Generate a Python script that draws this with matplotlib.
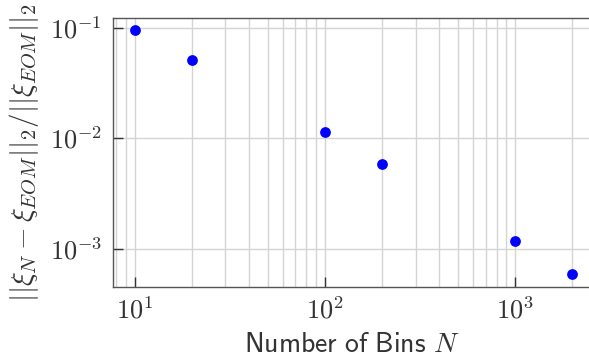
import matplotlib
matplotlib.use("Agg")
import matplotlib.pyplot as plt
from matplotlib.ticker import FuncFormatter, LogLocator, NullFormatter
import numpy as np

plt.rcParams['mathtext.fontset'] = 'cm'

bins = [10, 20, 100, 200, 1000, 2000]
rel_error = [0.0953, 0.0507, 0.0115, 0.0059, 0.00119, 0.000598]

fig = plt.figure(figsize=(5.89, 3.63), dpi=100)
ax = fig.add_axes([0.1919, 0.2102, 0.810, 0.741])

ax.scatter(bins, rel_error, s=60, color='#0000ff', zorder=3, linewidths=0)
ax.set_xscale('log')
ax.set_yscale('log')
ax.set_xlim(7.69, 2480)
ax.set_ylim(10**-3.338, 10**-0.910)

ax.xaxis.set_minor_locator(LogLocator(base=10, subs=np.arange(2, 10), numticks=20))
ax.xaxis.set_minor_formatter(NullFormatter())
ax.yaxis.set_minor_formatter(NullFormatter())
fmt = FuncFormatter(lambda v, p: r'$10^{%d}$' % round(np.log10(v)))
ax.xaxis.set_major_formatter(fmt)
ax.yaxis.set_major_formatter(fmt)

ax.grid(True, which='major', axis='both', color='#d4d4d4', linewidth=1.0, zorder=0)
ax.grid(True, which='minor', axis='x', color='#d4d4d4', linewidth=1.0, zorder=0)
ax.set_axisbelow(True)

ax.tick_params(which='major', direction='in', length=7.5, width=1.0, color='#333333',
               labelsize=19, pad=8, labelcolor='#333333')
ax.tick_params(which='minor', length=0)

for s in ['left', 'bottom', 'top']:
    ax.spines[s].set_color('#555555')
    ax.spines[s].set_linewidth(1.0)
ax.spines['right'].set_visible(False)

ax.set_xlabel(r'$\mathsf{Number\ of\ Bins}\ N$', fontsize=20, color='#333333', labelpad=4)
ax.set_ylabel(r'$||\xi_N - \xi_{EOM}||_2/||\xi_{EOM}||_2$', fontsize=21, color='#333333', labelpad=6)

fig.savefig('out.png', dpi=100)
